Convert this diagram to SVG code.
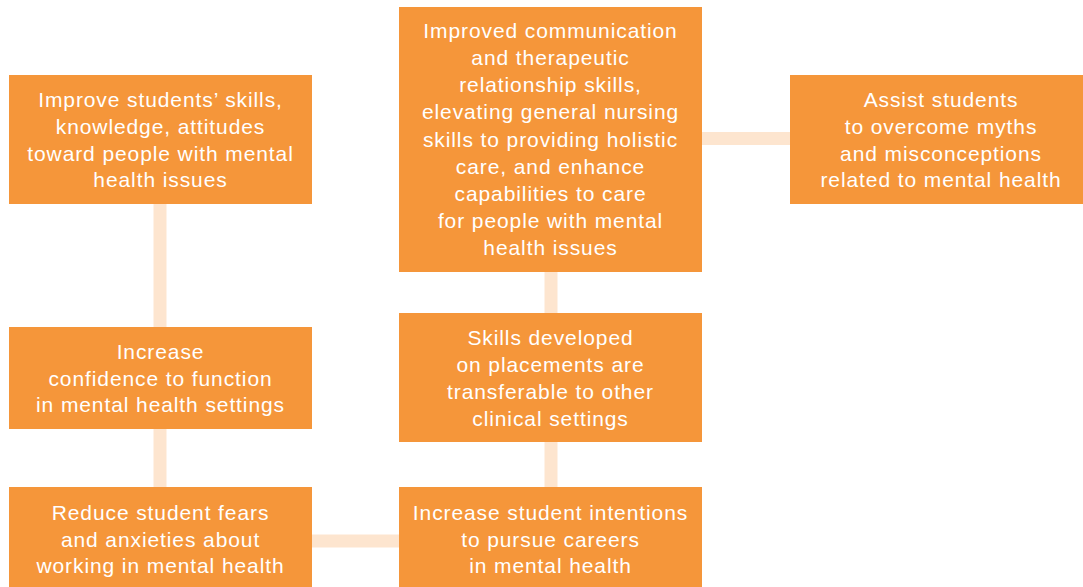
<svg xmlns="http://www.w3.org/2000/svg" width="1083" height="587" viewBox="0 0 1083 587">
<style>
.box{fill:#F5963A}
.conn{stroke:#FDE5CF;stroke-width:13;fill:none}
text{font-family:"Liberation Sans",Arial,sans-serif;font-size:21px;letter-spacing:0.9px;fill:#FFFFFF;text-anchor:middle}
</style>
<rect width="1083" height="587" fill="#FFFFFF"/>
<g id="connectors">
<line class="conn" x1="160" y1="203" x2="160" y2="327"/>
<line class="conn" x1="160" y1="428" x2="160" y2="487"/>
<line class="conn" x1="312" y1="541" x2="399" y2="541"/>
<line class="conn" x1="551" y1="441" x2="551" y2="487"/>
<line class="conn" x1="551" y1="271" x2="551" y2="313"/>
<line class="conn" x1="702" y1="138.5" x2="790" y2="138.5"/>
</g>
<g id="node-improve">
<rect class="box" x="9" y="75" width="303" height="129"/>
<text x="160.5" y="107">Improve students’ skills,</text>
<text x="160.5" y="134">knowledge, attitudes</text>
<text x="160.5" y="161">toward people with mental</text>
<text x="160.5" y="187">health issues</text>
</g>
<g id="node-communication">
<rect class="box" x="399" y="7" width="303" height="265"/>
<text x="550.5" y="38">Improved communication</text>
<text x="550.5" y="65">and therapeutic</text>
<text x="550.5" y="92">relationship skills,</text>
<text x="550.5" y="119">elevating general nursing</text>
<text x="550.5" y="147">skills to providing holistic</text>
<text x="550.5" y="174">care, and enhance</text>
<text x="550.5" y="201">capabilities to care</text>
<text x="550.5" y="228">for people with mental</text>
<text x="550.5" y="255">health issues</text>
</g>
<g id="node-myths">
<rect class="box" x="790" y="75" width="293" height="129"/>
<text x="941" y="107">Assist students</text>
<text x="941" y="134">to overcome myths</text>
<text x="941" y="161">and misconceptions</text>
<text x="941" y="187">related to mental health</text>
</g>
<g id="node-confidence">
<rect class="box" x="9" y="327" width="303" height="102"/>
<text x="160.5" y="359">Increase</text>
<text x="160.5" y="386">confidence to function</text>
<text x="160.5" y="412">in mental health settings</text>
</g>
<g id="node-transferable">
<rect class="box" x="399" y="313" width="303" height="129"/>
<text x="550.5" y="345">Skills developed</text>
<text x="550.5" y="372">on placements are</text>
<text x="550.5" y="399">transferable to other</text>
<text x="550.5" y="426">clinical settings</text>
</g>
<g id="node-fears">
<rect class="box" x="9" y="487" width="303" height="100"/>
<text x="160.5" y="520">Reduce student fears</text>
<text x="160.5" y="547">and anxieties about</text>
<text x="160.5" y="573">working in mental health</text>
</g>
<g id="node-careers">
<rect class="box" x="399" y="487" width="303" height="100"/>
<text x="550.5" y="520">Increase student intentions</text>
<text x="550.5" y="547">to pursue careers</text>
<text x="550.5" y="573">in mental health</text>
</g>
</svg>
